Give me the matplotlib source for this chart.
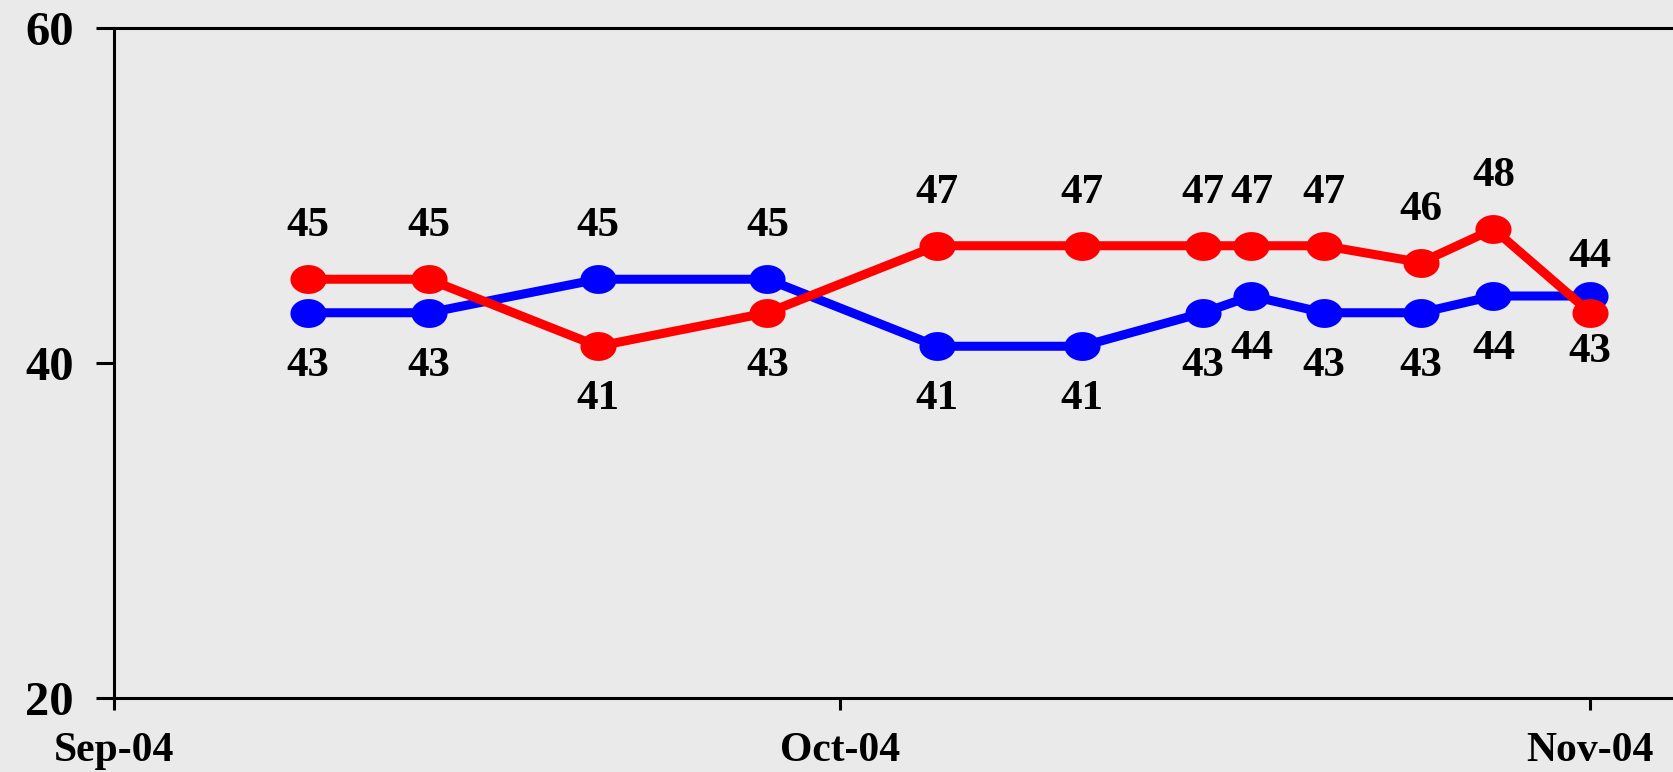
"""Two-series poll trend, Sep-Nov 2004."""

import matplotlib

matplotlib.use("Agg")

import matplotlib.dates as mdates
import matplotlib.pyplot as plt
import numpy as np
import pandas as pd
from matplotlib.path import Path

dates = pd.to_datetime([
    "2004-09-09", "2004-09-14", "2004-09-21", "2004-09-28", "2004-10-05", "2004-10-11",
    "2004-10-16", "2004-10-18", "2004-10-21", "2004-10-25", "2004-10-28", "2004-11-01",
])
blue_vals = [43, 43, 45, 45, 41, 41, 43, 44, 43, 43, 44, 44]
red_vals = [45, 45, 41, 43, 47, 47, 47, 47, 47, 46, 48, 43]
month_ticks = pd.to_datetime(["2004-09-01", "2004-10-01", "2004-11-01"])
y_ticks = [20, 40, 60]

BG = "#eaeaea"
FONT = "Liberation Serif"

# slightly flattened round marker
t = np.linspace(0, 2 * np.pi, 60)
ellipse = Path(np.column_stack([np.cos(t), 0.8 * np.sin(t)]), closed=True)

fig = plt.figure(figsize=(16.74, 7.72), dpi=100, facecolor=BG)
ax = fig.add_axes([114 / 1674, 74 / 772, 1560 / 1674, 670 / 772], facecolor=BG)

for vals, color in [(blue_vals, "#0000ff"), (red_vals, "#ff0000")]:
    ax.plot(dates, vals, color=color, linewidth=6.5, marker=ellipse,
            markersize=26, markeredgewidth=0, solid_capstyle="round", clip_on=False)

n = len(dates)
for i, (d, b, r) in enumerate(zip(dates, blue_vals, red_vals)):
    off = 28 if i == n - 1 else 38
    hi, lo = max(b, r), min(b, r)
    ax.annotate(str(hi), (d, hi), xytext=(0, off), textcoords="offset points",
                ha="center", va="center", fontsize=31, fontweight="bold", family=FONT)
    ax.annotate(str(lo), (d, lo), xytext=(0, -off), textcoords="offset points",
                ha="center", va="center", fontsize=31, fontweight="bold", family=FONT)

start = month_ticks[0]
ax.set_xlim(start, start + pd.Timedelta(days=64.46))
ax.set_ylim(20, 60)
ax.set_xticks(month_ticks)
ax.xaxis.set_major_formatter(mdates.DateFormatter("%b-%y"))
ax.set_yticks(y_ticks)

for side in ["left", "top", "bottom"]:
    ax.spines[side].set_linewidth(2.2)
ax.spines["right"].set_visible(False)

ax.tick_params(axis="y", length=13, width=2.2, pad=16, labelsize=35)
ax.tick_params(axis="x", length=8.6, width=2.2, pad=16, labelsize=30)
for lab in ax.get_xticklabels() + ax.get_yticklabels():
    lab.set_family(FONT)
    lab.set_fontweight("bold")

fig.savefig("out.png", dpi=100, facecolor=BG)
